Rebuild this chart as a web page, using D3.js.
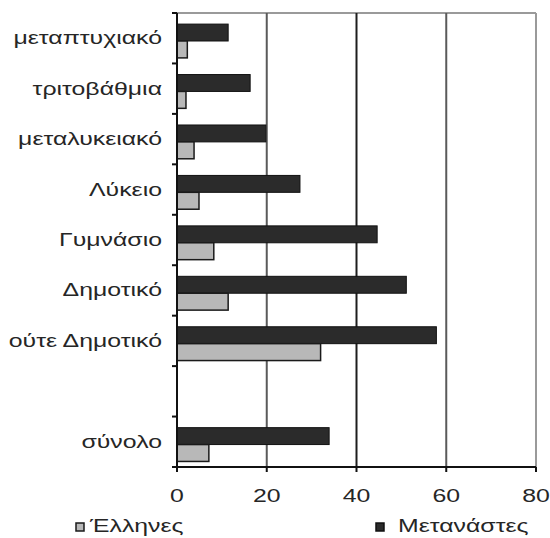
<!DOCTYPE html>
<html>
<head>
<meta charset="utf-8">
<script src="https://cdn.jsdelivr.net/npm/d3@7"></script>
<style>
  html, body { margin: 0; padding: 0; background: #fff; }
  svg text { font-family: "Liberation Sans", Arial, sans-serif; fill: #262626; }
</style>
</head>
<body>
<svg id="chart" width="550" height="538"></svg>
<script>
// Education level categories (top to bottom); the blank row separates the total
const categories = ["μεταπτυχιακό", "τριτοβάθμια", "μεταλυκειακό", "Λύκειο", "Γυμνάσιο", "Δημοτικό", "ούτε Δημοτικό", "", "σύνολο"];
const migrants = [11.4, 16.3, 19.8, 27.4, 44.6, 51.1, 57.8, null, 33.9];
const greeks   = [2.3, 2.0, 3.8, 4.9, 8.2, 11.4, 32.0, null, 7.1];
const xTicks = [0, 20, 40, 60, 80];
const seriesNames = ["Έλληνες", "Μετανάστες"];

const svg = d3.select("#chart");
const plotL = 177, plotR = 536, plotT = 13, plotB = 467;
const stretch = 1.38; // wide lettering

const x = d3.scaleLinear().domain([0, 80]).range([plotL, plotR]);
const rowKeys = categories.map((c, i) => i);
const y = d3.scaleBand().domain(rowKeys).range([plotT, plotB]).padding(0);
const bw = y.bandwidth();
const sub = d3.scaleBand().domain(["m", "g"]).range([bw * 0.22, bw * 0.89]).padding(0);

// horizontally stretched text helper
function label(g, tx, ty, str, anchor, size) {
  g.append("text")
    .attr("transform", `translate(${tx},${ty}) scale(${stretch},1)`)
    .attr("text-anchor", anchor)
    .attr("font-size", size)
    .text(str);
}

// plot frame: top border
svg.append("line").attr("x1", plotL).attr("x2", plotR).attr("y1", plotT).attr("y2", plotT)
  .attr("stroke", "#9a9a9a").attr("stroke-width", 2);

// vertical gridlines
const gridColors = { 20: "#5a5a5a", 40: "#1e1e1e", 60: "#5a5a5a", 80: "#9a9a9a" };
svg.append("g").selectAll("line").data(xTicks.filter(d => d > 0)).join("line")
  .attr("x1", d => x(d)).attr("x2", d => x(d))
  .attr("y1", plotT).attr("y2", plotB)
  .attr("stroke", d => gridColors[d]).attr("stroke-width", 2);

// bars
const rows = categories.map((c, i) => ({ i, c, m: migrants[i], g: greeks[i] })).filter(d => d.m != null);
const bars = svg.append("g");
bars.selectAll("rect.m").data(rows).join("rect").attr("class", "m")
  .attr("x", x(0)).attr("y", d => y(d.i) + sub("m"))
  .attr("width", d => x(d.m) - x(0)).attr("height", sub.bandwidth())
  .attr("fill", "#2b2b2b").attr("stroke", "#111").attr("stroke-width", 1);
bars.selectAll("rect.g").data(rows).join("rect").attr("class", "g")
  .attr("x", x(0)).attr("y", d => y(d.i) + sub("g"))
  .attr("width", d => x(d.g) - x(0)).attr("height", sub.bandwidth())
  .attr("fill", "#b8b8b8").attr("stroke", "#1a1a1a").attr("stroke-width", 1.5);

// left axis line with ticks at band boundaries
svg.append("line").attr("x1", plotL).attr("x2", plotL).attr("y1", plotT).attr("y2", plotB + 4)
  .attr("stroke", "#111").attr("stroke-width", 2);
const bounds = rowKeys.map(k => y(k)).concat([plotB]);
svg.append("g").selectAll("line").data(bounds).join("line")
  .attr("x1", plotL - 5).attr("x2", plotL).attr("y1", d => d).attr("y2", d => d)
  .attr("stroke", "#111").attr("stroke-width", 2);

// bottom axis line and ticks
svg.append("line").attr("x1", plotL - 5).attr("x2", plotR).attr("y1", plotB).attr("y2", plotB)
  .attr("stroke", "#111").attr("stroke-width", 2);
svg.append("g").selectAll("line").data(xTicks).join("line")
  .attr("x1", d => x(d)).attr("x2", d => x(d)).attr("y1", plotB).attr("y2", plotB + 5)
  .attr("stroke", "#111").attr("stroke-width", 2);

// tick labels
const tickG = svg.append("g");
xTicks.forEach(t => label(tickG, x(t), 502, String(t), "middle", 18));

// category labels
const catG = svg.append("g");
categories.forEach((c, i) => { if (c) label(catG, 162, y(i) + bw / 2 + 6, c, "end", 18); });

// legend
const lg = svg.append("g");
lg.append("rect").attr("x", 76).attr("y", 523).attr("width", 8).attr("height", 8)
  .attr("fill", "#b8b8b8").attr("stroke", "#1a1a1a").attr("stroke-width", 1.5);
label(lg, 90, 532, seriesNames[0], "start", 18);
lg.append("rect").attr("x", 376).attr("y", 523).attr("width", 8).attr("height", 8)
  .attr("fill", "#2b2b2b").attr("stroke", "#111").attr("stroke-width", 1.5);
label(lg, 398, 532, seriesNames[1], "start", 18);
</script>
</body>
</html>
